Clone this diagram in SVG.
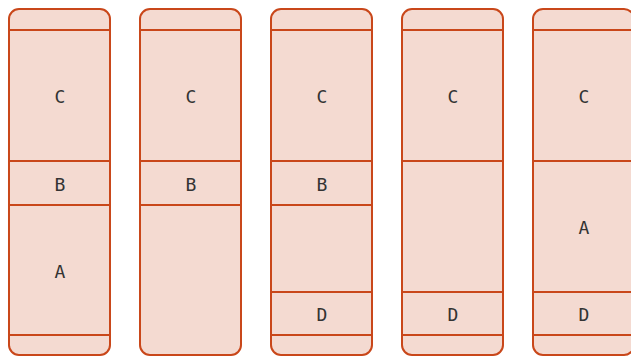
<svg xmlns="http://www.w3.org/2000/svg" width="631" height="357" viewBox="0 0 631 357">
<style>
.box{fill:#f4dad1;stroke:#c9471a;stroke-width:2}
.ln{stroke:#c9471a;stroke-width:2}
text{font-family:"DejaVu Sans Mono","Liberation Mono",monospace;font-size:18px;fill:#333;text-anchor:middle;dominant-baseline:central}
</style>
<g id="col1">
<rect class="box" x="9" y="9" width="101" height="346" rx="10"/>
<line class="ln" x1="9" y1="30" x2="110" y2="30"/>
<line class="ln" x1="9" y1="161" x2="110" y2="161"/>
<line class="ln" x1="9" y1="205" x2="110" y2="205"/>
<line class="ln" x1="9" y1="335" x2="110" y2="335"/>
<text x="60" y="96">C</text><text x="60" y="184">B</text><text x="60" y="271">A</text>
</g>
<g id="col2">
<rect class="box" x="140" y="9" width="101" height="346" rx="10"/>
<line class="ln" x1="140" y1="30" x2="241" y2="30"/>
<line class="ln" x1="140" y1="161" x2="241" y2="161"/>
<line class="ln" x1="140" y1="205" x2="241" y2="205"/>
<text x="191" y="96">C</text><text x="191" y="184">B</text>
</g>
<g id="col3">
<rect class="box" x="271" y="9" width="101" height="346" rx="10"/>
<line class="ln" x1="271" y1="30" x2="372" y2="30"/>
<line class="ln" x1="271" y1="161" x2="372" y2="161"/>
<line class="ln" x1="271" y1="205" x2="372" y2="205"/>
<line class="ln" x1="271" y1="292" x2="372" y2="292"/>
<line class="ln" x1="271" y1="335" x2="372" y2="335"/>
<text x="322" y="96">C</text><text x="322" y="184">B</text><text x="322" y="314">D</text>
</g>
<g id="col4">
<rect class="box" x="402" y="9" width="101" height="346" rx="10"/>
<line class="ln" x1="402" y1="30" x2="503" y2="30"/>
<line class="ln" x1="402" y1="161" x2="503" y2="161"/>
<line class="ln" x1="402" y1="292" x2="503" y2="292"/>
<line class="ln" x1="402" y1="335" x2="503" y2="335"/>
<text x="453" y="96">C</text><text x="453" y="314">D</text>
</g>
<g id="col5">
<rect class="box" x="533" y="9" width="101" height="346" rx="10"/>
<line class="ln" x1="533" y1="30" x2="634" y2="30"/>
<line class="ln" x1="533" y1="161" x2="634" y2="161"/>
<line class="ln" x1="533" y1="292" x2="634" y2="292"/>
<line class="ln" x1="533" y1="335" x2="634" y2="335"/>
<text x="584" y="96">C</text><text x="584" y="227">A</text><text x="584" y="314">D</text>
</g>
<g id="connectors"/>
</svg>
